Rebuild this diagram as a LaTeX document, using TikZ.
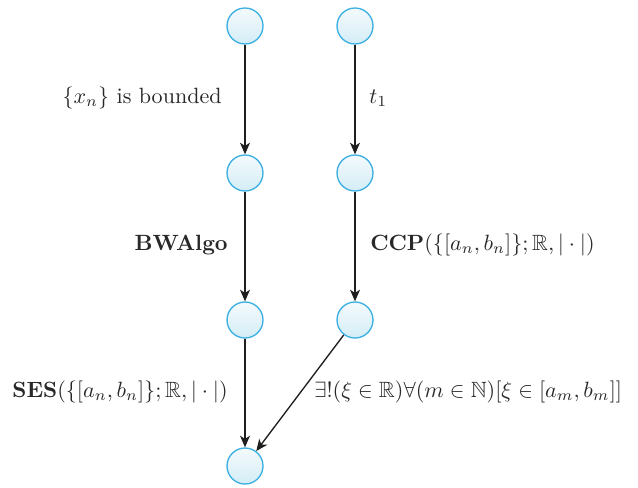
\documentclass[tikz,border=0pt]{standalone}
\usepackage{amssymb}
\usetikzlibrary{arrows.meta}
\newcommand{\bigtxt}[1]{\scalebox{1.325}{#1}}
\begin{document}
\begin{tikzpicture}[x=0.6pt,y=-0.6pt,
  vtx/.style={circle,minimum size=21.6pt,inner sep=0pt,draw={rgb,255:red,60;green,176;blue,226},line width=0.8pt,top color={rgb,255:red,244;green,250;blue,252},bottom color={rgb,255:red,212;green,237;blue,246}},
  conn/.style={-{Stealth[length=7pt,width=6pt,inset=2pt]},line width=0.8pt,draw={rgb,255:red,30;green,30;blue,30}},
  lbl/.style={text={rgb,255:red,40;green,40;blue,40},inner sep=0pt}]
\useasboundingbox (0,0) rectangle (638,487);
\node[vtx] (a1) at (245,26) {};
\node[vtx] (b1) at (355,26) {};
\node[vtx] (a2) at (245,173) {};
\node[vtx] (b2) at (355,173) {};
\node[vtx] (a3) at (245,320) {};
\node[vtx] (b3) at (355,320) {};
\node[vtx] (a4) at (245,466) {};
\draw[conn] (a1) -- (a2);
\draw[conn] (b1) -- (b2);
\draw[conn] (a2) -- (a3);
\draw[conn] (b2) -- (b3);
\draw[conn] (a3) -- (a4);
\draw[conn] (b3) -- (a4);
\node[lbl,anchor=east] (l1) at (222,98) {\bigtxt{$\{x_n\}$ is bounded}};
\node[lbl,anchor=west] (l2) at (369,98) {\bigtxt{$t_1$}};
\node[lbl,anchor=east] (l3) at (228,245) {\bigtxt{$\mathbf{BWAlgo}$}};
\node[lbl,anchor=west] (l4) at (370,245) {\bigtxt{$\mathbf{CCP}(\{[a_n,b_n]\};\mathbb{R},|\cdot|)$}};
\node[lbl,anchor=east] (l5) at (228,392) {\bigtxt{$\mathbf{SES}(\{[a_n,b_n]\};\mathbb{R},|\cdot|)$}};
\node[lbl,anchor=west] (l6) at (314,392) {\bigtxt{$\exists!(\xi\in\mathbb{R})\forall(m\in\mathbb{N})[\xi\in[a_m,b_m]]$}};
\end{tikzpicture}
\end{document}
